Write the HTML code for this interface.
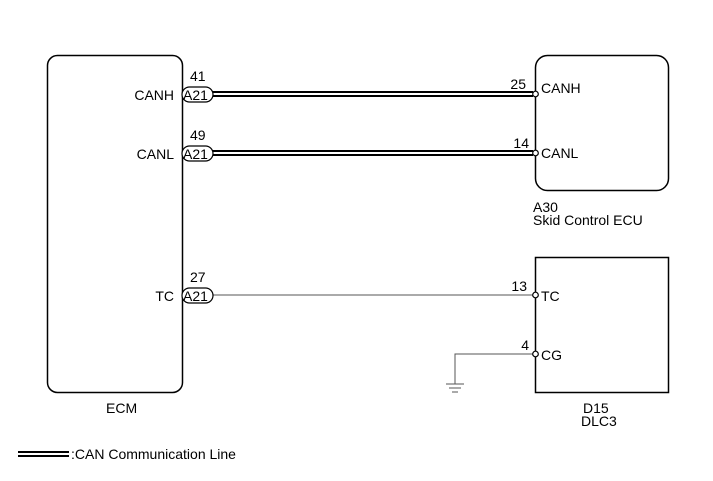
<!DOCTYPE html>
<html><head><style>body{margin:0;background:#fff}svg{display:block}text{font-family:"Liberation Sans",sans-serif;font-size:14px;fill:#000}</style></head><body>
<svg width="713" height="481" viewBox="0 0 713 481">
<rect x="47.5" y="55.5" width="135" height="337" rx="10" fill="none" stroke="#000" stroke-width="1.5"/>
<rect x="535.5" y="55.5" width="133" height="135" rx="12" fill="none" stroke="#000" stroke-width="1.5"/>
<rect x="535.5" y="257.5" width="133" height="135" fill="none" stroke="#000" stroke-width="1.5"/>
<g stroke="#000" stroke-width="6"><line x1="205" y1="94" x2="533" y2="94"/><line x1="205" y1="153" x2="533" y2="153"/></g>
<g stroke="#fff" stroke-width="2"><line x1="205" y1="94" x2="533" y2="94"/><line x1="205" y1="153" x2="533" y2="153"/></g>
<line x1="210" y1="295" x2="533" y2="295" stroke="#555" stroke-width="1"/>
<polyline points="533,354 455,354 455,384" fill="none" stroke="#555" stroke-width="1"/>
<g stroke="#555"><line x1="446" y1="384" x2="464" y2="384"/><line x1="449" y1="388" x2="461" y2="388"/><line x1="452" y1="392" x2="458" y2="392"/></g>
<g fill="#fff" stroke="#000" stroke-width="1.2">
<rect x="182" y="87" width="31" height="15" rx="7.5"/><rect x="182" y="146" width="31" height="15" rx="7.5"/><rect x="182" y="288" width="31" height="15" rx="7.5"/>
<circle cx="535.5" cy="94" r="2.8"/><circle cx="535.5" cy="153" r="2.8"/><circle cx="535.5" cy="295" r="2.8"/><circle cx="535.5" cy="354" r="2.8"/></g>
<g font-size="14"><text x="183" y="100">A21</text><text x="183" y="159">A21</text><text x="183" y="301">A21</text>
<text x="190" y="81">41</text><text x="190" y="140">49</text><text x="190" y="282">27</text>
<text x="174" y="100" text-anchor="end">CANH</text><text x="174" y="159" text-anchor="end">CANL</text><text x="174" y="301" text-anchor="end">TC</text>
<text x="526" y="89" text-anchor="end">25</text><text x="529" y="148" text-anchor="end">14</text><text x="527" y="291" text-anchor="end">13</text><text x="529" y="350" text-anchor="end">4</text>
<text x="541" y="93">CANH</text><text x="541" y="158">CANL</text><text x="541" y="301">TC</text><text x="541" y="360">CG</text>
<text x="533" y="212">A30</text><text x="533" y="225">Skid Control ECU</text>
<text x="106" y="413">ECM</text><text x="583" y="413">D15</text><text x="581" y="426">DLC3</text>
<text x="71" y="459">:CAN Communication Line</text></g>
<line x1="18" y1="454" x2="69" y2="454" stroke="#000" stroke-width="6"/><line x1="18" y1="454" x2="69" y2="454" stroke="#fff" stroke-width="2"/>
</svg></body></html>
